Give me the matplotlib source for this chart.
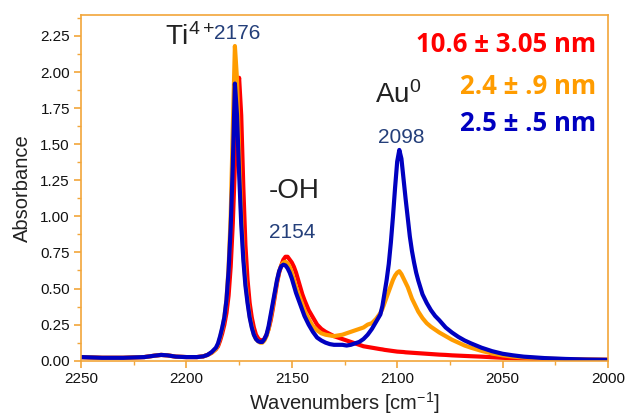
import numpy as np
import matplotlib
matplotlib.use("Agg")
import matplotlib.pyplot as plt
from matplotlib.ticker import MultipleLocator

plt.rcParams['font.family'] = ['Liberation Sans', 'DejaVu Sans']
plt.rcParams['mathtext.default'] = 'regular'

# wavenumber grid (cm-1)
wn = [2250, 2240, 2230, 2220, 2215, 2212, 2209, 2205, 2200, 2195, 2192, 2190,
      2188, 2186, 2185, 2184, 2183, 2182, 2181, 2180, 2179, 2178, 2177, 2176,
      2175, 2174, 2173, 2172, 2171, 2170, 2169, 2168, 2167, 2166, 2165, 2164,
      2163, 2162, 2161, 2160, 2159, 2158, 2157, 2156, 2155, 2154, 2153, 2152,
      2151, 2150, 2149, 2148, 2147, 2146, 2145, 2144, 2142, 2140, 2138, 2136,
      2134, 2132, 2130, 2128, 2126, 2124, 2122, 2120, 2118, 2116, 2114, 2112,
      2110, 2108, 2107, 2106, 2105, 2104, 2103, 2102, 2101, 2100, 2099, 2098,
      2097, 2096, 2095, 2094, 2093, 2092, 2091, 2090, 2088, 2086, 2084, 2082,
      2080, 2077, 2074, 2071, 2068, 2065, 2060, 2055, 2050, 2045, 2040, 2030,
      2020, 2010, 2000]

# 10.6 nm sample
abs_red = [0.025, 0.02, 0.02, 0.025, 0.035, 0.04, 0.037, 0.028, 0.025, 0.025, 0.03, 0.04,
           0.055, 0.08, 0.10, 0.14, 0.19, 0.25, 0.33, 0.45, 0.65, 0.95, 1.35, 1.80,
           1.96, 1.70, 1.20, 0.80, 0.56, 0.40, 0.30, 0.23, 0.18, 0.155, 0.14, 0.14,
           0.15, 0.18, 0.22, 0.28, 0.36, 0.45, 0.54, 0.61, 0.66, 0.70, 0.72, 0.72,
           0.70, 0.68, 0.65, 0.61, 0.56, 0.51, 0.46, 0.42, 0.35, 0.30, 0.25, 0.22,
           0.20, 0.185, 0.17, 0.16, 0.15, 0.14, 0.13, 0.12, 0.11, 0.10, 0.095, 0.09,
           0.085, 0.08, 0.078, 0.075, 0.073, 0.071, 0.069, 0.067, 0.065, 0.063, 0.062, 0.061,
           0.06, 0.058, 0.057, 0.056, 0.055, 0.054, 0.053, 0.052, 0.05, 0.048, 0.046, 0.044,
           0.042, 0.04, 0.037, 0.035, 0.033, 0.031, 0.028, 0.024, 0.02, 0.017, 0.014, 0.01,
           0.008, 0.007, 0.006]

# 2.4 nm sample
abs_orange = [0.025, 0.02, 0.02, 0.025, 0.035, 0.04, 0.037, 0.028, 0.025, 0.025, 0.03, 0.04,
              0.055, 0.08, 0.11, 0.16, 0.22, 0.30, 0.42, 0.64, 1.00, 1.60, 2.18, 1.95,
              1.45, 1.02, 0.74, 0.55, 0.42, 0.31, 0.24, 0.18, 0.15, 0.135, 0.125, 0.125,
              0.14, 0.17, 0.22, 0.30, 0.38, 0.47, 0.55, 0.62, 0.66, 0.68, 0.685, 0.675,
              0.65, 0.61, 0.56, 0.51, 0.47, 0.43, 0.39, 0.35, 0.29, 0.24, 0.21, 0.19,
              0.18, 0.175, 0.17, 0.175, 0.18, 0.19, 0.20, 0.21, 0.22, 0.23, 0.25, 0.26,
              0.29, 0.33, 0.36, 0.40, 0.44, 0.48, 0.52, 0.56, 0.59, 0.61, 0.62, 0.60,
              0.57, 0.54, 0.51, 0.47, 0.43, 0.40, 0.37, 0.34, 0.295, 0.26, 0.235, 0.215,
              0.195, 0.17, 0.145, 0.125, 0.105, 0.09, 0.068, 0.05, 0.037, 0.028, 0.022, 0.015,
              0.01, 0.008, 0.006]

# 2.5 nm sample
abs_blue = [0.025, 0.02, 0.02, 0.025, 0.035, 0.04, 0.037, 0.028, 0.025, 0.025, 0.03, 0.04,
            0.06, 0.09, 0.12, 0.17, 0.23, 0.30, 0.42, 0.62, 0.92, 1.35, 1.92, 1.70,
            1.30, 0.95, 0.70, 0.52, 0.40, 0.30, 0.23, 0.18, 0.15, 0.135, 0.13, 0.13,
            0.15, 0.18, 0.24, 0.32, 0.40, 0.48, 0.56, 0.62, 0.655, 0.665, 0.66, 0.64,
            0.61, 0.57, 0.52, 0.47, 0.43, 0.39, 0.35, 0.31, 0.25, 0.20, 0.16, 0.14,
            0.125, 0.115, 0.11, 0.11, 0.11, 0.105, 0.11, 0.12, 0.13, 0.15, 0.18, 0.22,
            0.27, 0.32, 0.38, 0.47, 0.56, 0.67, 0.82, 1.00, 1.20, 1.38, 1.46, 1.40,
            1.26, 1.12, 0.99, 0.86, 0.76, 0.68, 0.61, 0.555, 0.46, 0.40, 0.35, 0.31,
            0.28, 0.23, 0.195, 0.165, 0.14, 0.12, 0.09, 0.066, 0.048, 0.037, 0.028, 0.018,
            0.012, 0.008, 0.006]

sizes = ["10.6 \u00b1 3.05 nm", "2.4 \u00b1 .9 nm", "2.5 \u00b1 .5 nm"]

red = '#ff0000'
orange = '#ff9c00'
blue = '#0000c0'
navy = '#243f7a'
frame = '#f2a63a'

fig = plt.figure(figsize=(6.29, 4.18), dpi=100)
ax = fig.add_axes([0.1288, 0.1371, 0.8378, 0.827])

ax.plot(wn, abs_red, color=red, lw=3.0, solid_capstyle='round', solid_joinstyle='round')
ax.plot(wn, abs_orange, color=orange, lw=3.0, solid_capstyle='round', solid_joinstyle='round')
ax.plot(wn, abs_blue, color=blue, lw=3.0, solid_capstyle='round', solid_joinstyle='round')

ax.set_xlim(2250, 2000)
ax.set_ylim(0, 2.395)
ax.xaxis.set_major_locator(MultipleLocator(50))
ax.xaxis.set_minor_locator(MultipleLocator(25))
ax.yaxis.set_major_locator(MultipleLocator(0.25))
ax.yaxis.set_minor_locator(MultipleLocator(0.125))
ax.yaxis.set_major_formatter(plt.FormatStrFormatter('%.2f'))

for s in ax.spines.values():
    s.set_color(frame)
    s.set_linewidth(1.2)
ax.tick_params(which='major', color=frame, length=5, width=1.2, labelsize=11,
               labelcolor='#111111', pad=3)
ax.tick_params(which='minor', color=frame, length=3, width=1.0)

ax.set_xlabel("Wavenumbers [cm$^{-1}$]", fontsize=14.5, color='#222222', labelpad=3)
ax.set_ylabel("Absorbance", fontsize=14.5, color='#222222', labelpad=6)

# peak annotations
ax.text(2210, 2.19, "Ti$^{4+}$", fontsize=20, color='#222222', va='baseline')
ax.text(2187, 2.23, "2176", fontsize=15, color=navy, va='baseline')
ax.text(2161, 1.127, "-OH", fontsize=20, color='#222222', va='baseline')
ax.text(2161, 0.848, "2154", fontsize=15, color=navy, va='baseline')
ax.text(2110.3, 1.786, "Au$^{0}$", fontsize=20, color='#222222', va='baseline')
ax.text(2109.3, 1.51, "2098", fontsize=15, color=navy, va='baseline')

# particle size legend
for label, col, y in zip(sizes, [red, orange, blue], [2.14, 1.845, 1.59]):
    ax.text(2005.5, y, label, fontsize=18.5, color=col, fontweight='bold',
            family=['Open Sans', 'DejaVu Sans'], ha='right', va='baseline')

fig.savefig("out.png", dpi=100)
